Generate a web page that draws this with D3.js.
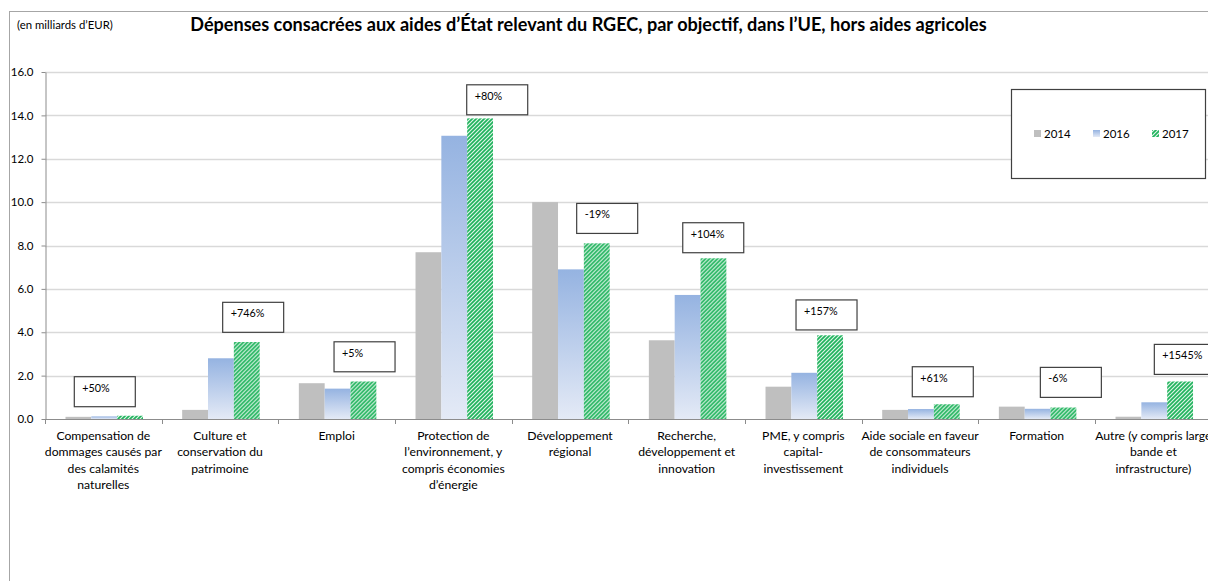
<!DOCTYPE html>
<html>
<head>
<meta charset="utf-8">
<script src="https://cdn.jsdelivr.net/npm/d3@7"></script>
<style>
  html, body { margin: 0; padding: 0; background: #fff; }
  svg { display: block; }
  text { font-family: Lato, "Open Sans", sans-serif; fill: #000; }
</style>
</head>
<body>
<svg id="chart" width="1208" height="581"></svg>
<script>
// ---- data ----
const categories = [
  "Compensation de|dommages causés par|des calamités|naturelles",
  "Culture et|conservation du|patrimoine",
  "Emploi",
  "Protection de|l’environnement, y|compris économies|d’énergie",
  "Développement|régional",
  "Recherche,|développement et|innovation",
  "PME, y compris|capital-|investissement",
  "Aide sociale en faveur|de consommateurs|individuels",
  "Formation",
  "Autre (y compris large|bande et|infrastructure)"
];
const years = ["2014", "2016", "2017"];
const values2014 = [0.10, 0.42, 1.65, 7.69, 10.0, 3.63, 1.49, 0.42, 0.57, 0.105];
const values2016 = [0.12, 2.80, 1.40, 13.06, 6.90, 5.72, 2.13, 0.46, 0.47, 0.77];
const values2017 = [0.15, 3.55, 1.73, 13.86, 8.10, 7.41, 3.86, 0.68, 0.53, 1.73];
const changeLabels = ["+50%", "+746%", "+5%", "+80%", "-19%", "+104%", "+157%", "+61%", "-6%", "+1545%"];
const yTicks = [0, 2, 4, 6, 8, 10, 12, 14, 16];
const yTickLabels = ["0.0", "2.0", "4.0", "6.0", "8.0", "10.0", "12.0", "14.0", "16.0"];
const titleText = "Dépenses consacrées aux aides d’État relevant du RGEC, par objectif, dans l’UE, hors aides agricoles";
const unitText = "(en milliards d’EUR)";

// ---- layout (annotation box placement: px offset in category, top in value units) ----
const annoDx = [29.3, 61, 55.7, 71.7, 65, 54.4, 51, 50.6, 62, 59.3];
const annoTop = [1.95, 5.38, 3.56, 15.41, 9.94, 9.05, 5.49, 2.41, 2.38, 3.44];

const svg = d3.select("#chart");
const plotLeft = 45, catW = 116.67, plotTop = 72, plotBottom = 419;

const x0 = d3.scaleBand().domain(d3.range(categories.length))
  .range([plotLeft, plotLeft + catW * categories.length]).padding(0);
const x1 = d3.scaleBand().domain(years).range([20.5, 98]).padding(0);
const y = d3.scaleLinear().domain([0, 16]).range([plotBottom, plotTop]);

const series = { "2014": values2014, "2016": values2016, "2017": values2017 };

// defs
const defs = svg.append("defs");
const grad = defs.append("linearGradient").attr("id", "blueGrad")
  .attr("x1", 0).attr("y1", 0).attr("x2", 0).attr("y2", 1);
grad.append("stop").attr("offset", "0%").attr("stop-color", "#95b3e1");
grad.append("stop").attr("offset", "100%").attr("stop-color", "#e4eaf6");

const pat = defs.append("pattern").attr("id", "greenHatch")
  .attr("patternUnits", "userSpaceOnUse").attr("width", 4).attr("height", 4);
pat.append("rect").attr("width", 4).attr("height", 4).attr("fill", "#e2f6ea");
pat.append("path").attr("d", "M-1,1 l2,-2 M0,4 l4,-4 M3,5 l2,-2")
  .attr("stroke", "#1fb35c").attr("stroke-width", 1.7);

// outer frame
svg.append("line").attr("x1", 9.5).attr("x2", 9.5).attr("y1", 11).attr("y2", 581)
  .attr("stroke", "#a6a6a6");
svg.append("line").attr("x1", 9).attr("x2", 1208).attr("y1", 11.5).attr("y2", 11.5)
  .attr("stroke", "#a6a6a6");

// title
const title = svg.append("text").attr("x", 588.5).attr("y", 31)
  .attr("text-anchor", "middle").attr("font-weight", "bold").attr("font-size", 17)
  .text(titleText);
{
  const w = title.node().getComputedTextLength();
  title.attr("font-size", 17 * 797 / w);
}
const unit = svg.append("text").attr("x", 17).attr("y", 29).attr("font-size", 10.5).text(unitText);
{
  const w = unit.node().getComputedTextLength();
  unit.attr("font-size", 10.5 * 96 / w);
}

// gridlines
svg.append("g").selectAll("line").data(yTicks.filter(d => d > 0)).join("line")
  .attr("x1", plotLeft).attr("x2", 1208)
  .attr("y1", d => Math.round(y(d)) + 0.5).attr("y2", d => Math.round(y(d)) + 0.5)
  .attr("stroke", "#d9d9d9").attr("stroke-width", 1.3);

// y axis
const yAxis = d3.axisLeft(y).tickValues(yTicks)
  .tickFormat((d, i) => yTickLabels[i]).tickSize(4).tickSizeOuter(0).tickPadding(8);
const gy = svg.append("g").attr("transform", `translate(${plotLeft + 0.5},0)`).call(yAxis);
gy.select(".domain").attr("stroke", "#8c8c8c");
gy.selectAll(".tick line").attr("stroke", "#8c8c8c");
gy.selectAll(".tick text").attr("font-size", 11.5).attr("font-family", "Lato, sans-serif").attr("fill", "#000");

// bars
const groups = svg.append("g").selectAll("g").data(categories.map((c, i) => i)).join("g")
  .attr("transform", i => `translate(${x0(i)},0)`);
groups.selectAll("rect").data(i => years.map(yr => ({ yr, v: series[yr][i] }))).join("rect")
  .attr("x", d => x1(d.yr)).attr("width", x1.bandwidth())
  .attr("y", d => y(d.v)).attr("height", d => y(0) - y(d.v))
  .attr("fill", d => d.yr === "2014" ? "#bfbfbf" : d.yr === "2016" ? "url(#blueGrad)" : "url(#greenHatch)");

// x axis
const xAxisLine = svg.append("g");
xAxisLine.append("line").attr("x1", plotLeft).attr("x2", 1208)
  .attr("y1", plotBottom + 0.5).attr("y2", plotBottom + 0.5).attr("stroke", "#8c8c8c");
xAxisLine.selectAll("line.tk").data(d3.range(categories.length + 1)).join("line").attr("class", "tk")
  .attr("x1", i => Math.round(plotLeft + i * catW) + 0.5).attr("x2", i => Math.round(plotLeft + i * catW) + 0.5)
  .attr("y1", plotBottom).attr("y2", plotBottom + 5).attr("stroke", "#8c8c8c");

// category labels
const labels = svg.append("g").selectAll("text").data(categories).join("text")
  .attr("text-anchor", "middle").attr("font-size", 12.2)
  .attr("x", (d, i) => x0(i) + x0.bandwidth() / 2).attr("y", 440);
labels.each(function (d) {
  const t = d3.select(this);
  d.split("|").forEach((line, k) => {
    t.append("tspan").attr("x", t.attr("x")).attr("dy", k === 0 ? 0 : 16.4).text(line);
  });
});

// annotation boxes
const annos = svg.append("g").selectAll("g").data(changeLabels).join("g")
  .attr("transform", (d, i) => `translate(${x0(i) + annoDx[i]},${y(annoTop[i])})`);
annos.append("rect").attr("width", 61).attr("height", 30)
  .attr("fill", "#fff").attr("stroke", "#404040").attr("stroke-width", 1.2);
annos.append("text").attr("x", 8).attr("y", 15).attr("font-size", 10.8).text(d => d);

// legend
const lg = svg.append("g");
lg.append("rect").attr("x", 1011.5).attr("y", 89.5).attr("width", 194).attr("height", 89)
  .attr("fill", "#fff").attr("stroke", "#404040").attr("stroke-width", 1.2);
const legX = [1034, 1093, 1152];
const li = lg.selectAll("g.li").data(years).join("g").attr("class", "li")
  .attr("transform", (d, i) => `translate(${legX[i]},130)`);
li.append("rect").attr("width", 7).attr("height", 7)
  .attr("fill", d => d === "2014" ? "#bfbfbf" : d === "2016" ? "url(#blueGrad)" : "url(#greenHatch)");
li.append("text").attr("x", 10).attr("y", 7.5).attr("font-size", 11.5).text(d => d);
</script>
</body>
</html>
